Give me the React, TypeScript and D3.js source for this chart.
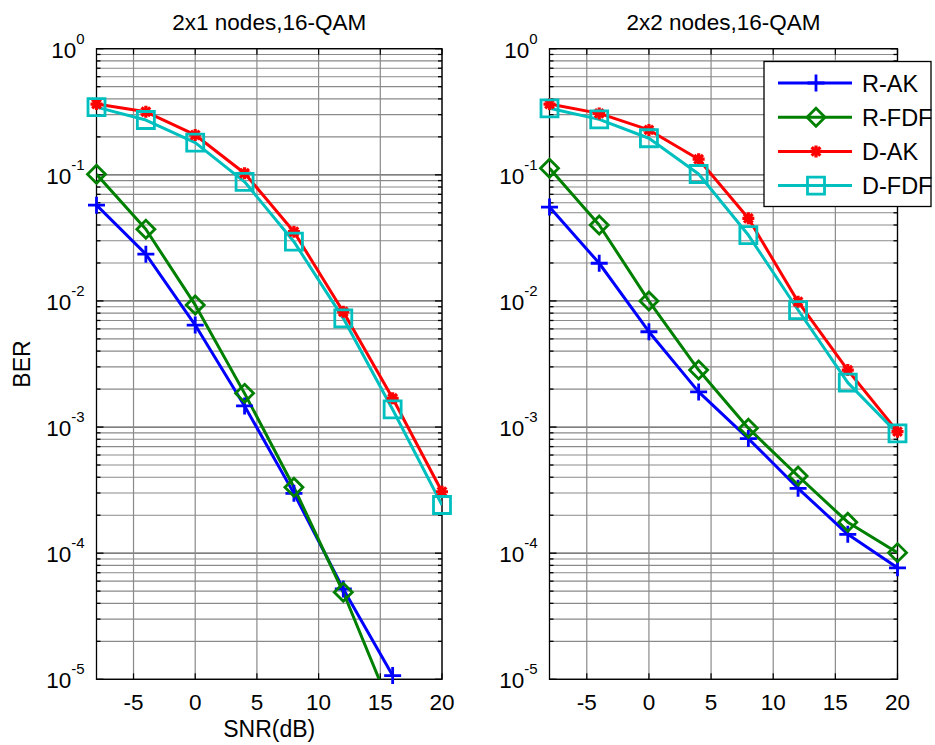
import React from 'react';
import * as d3 from 'd3';

const snr = [-8, -4, 0, 4, 8, 12, 16, 20];
const leftRAK = [0.0575, 0.0235, 0.00644, 0.00147, 0.000298, 5.2e-5, 1.07e-5, null];
const leftRFDF = [0.101, 0.037, 0.0093, 0.00185, 0.000333, 4.9e-5, 5.5e-6, null];
const leftDAK = [0.364, 0.316, 0.207, 0.103, 0.0354, 0.0082, 0.00169, 0.000307];
const leftDFDF = [0.344, 0.272, 0.18, 0.088, 0.0295, 0.00728, 0.00138, 0.000241];
const rightRAK = [0.0555, 0.0199, 0.0057, 0.0019, 0.00081, 0.000327, 0.000141, 7.66e-5];
const rightRFDF = [0.1127, 0.04, 0.00997, 0.00283, 0.00098, 0.000409, 0.000176, 0.000101];
const rightDAK = [0.364, 0.307, 0.227, 0.133, 0.0452, 0.00986, 0.00283, 0.00092];
const rightDFDF = [0.337, 0.275, 0.195, 0.1015, 0.0333, 0.00847, 0.00225, 0.00089];

const xTicks = [-5, 0, 5, 10, 15, 20];
const yExponents = [-5, -4, -3, -2, -1, 0];
const seriesNames = ['R-AK', 'R-FDF', 'D-AK', 'D-FDF'];
const seriesColors = ['#0000ff', '#008000', '#ff0000', '#00bfbf'];
const seriesMarkers = ['plus', 'diamond', 'star', 'square'];
const titles = ['2x1 nodes,16-QAM', '2x2 nodes,16-QAM'];
const xLabel = 'SNR(dB)';
const yLabel = 'BER';

const FONT = 'Liberation Sans, Arial, Helvetica, sans-serif';

function markerPath(kind: string): string {
  if (kind === 'plus') {
    const s = 8.5;
    return `M${-s},0H${s}M0,${-s}V${s}`;
  }
  if (kind === 'star') {
    const s = 6;
    const t = s * 0.72;
    return `M${-s},0H${s}M0,${-s}V${s}M${-t},${-t}L${t},${t}M${-t},${t}L${t},${-t}`;
  }
  if (kind === 'diamond') {
    const s = 9;
    return `M0,${-s}L${s},0L0,${s}L${-s},0Z`;
  }
  const s = 8.5;
  return `M${-s},${-s}H${s}V${s}H${-s}Z`;
}

type PanelProps = {
  id: string;
  x0: number;
  x1: number;
  y0: number;
  y1: number;
  title: string;
  series: (number | null)[][];
  legend?: boolean;
  labels?: boolean;
};

function Panel({ id, x0, x1, y0, y1, title, series, legend, labels }: PanelProps) {
  const x = d3.scaleLinear().domain([-8, 20]).range([x0, x1]);
  const y = d3.scaleLog().domain([1e-5, 1]).range([y1, y0]);
  const minors: number[] = [];
  for (let e = -5; e < 0; e++) for (let k = 2; k <= 9; k++) minors.push(k * Math.pow(10, e));
  const line = d3
    .line<[number, number | null]>()
    .defined((d) => d[1] != null)
    .x((d) => x(d[0]))
    .y((d) => y(d[1] as number));

  return (
    <g>
      <defs>
        <clipPath id={id}>
          <rect x={x0} y={y0} width={x1 - x0} height={y1 - y0} />
        </clipPath>
      </defs>
      {/* grid */}
      {minors.map((v, i) => (
        <line key={'gm' + i} x1={x0} x2={x1} y1={y(v)} y2={y(v)} stroke="#8a8a8a" strokeWidth={1.1} />
      ))}
      {yExponents.map((e) => (
        <line key={'gy' + e} x1={x0} x2={x1} y1={y(Math.pow(10, e))} y2={y(Math.pow(10, e))} stroke="#555" strokeWidth={1.2} />
      ))}
      {xTicks.map((t) => (
        <line key={'gx' + t} x1={x(t)} x2={x(t)} y1={y0} y2={y1} stroke="#8a8a8a" strokeWidth={1.2} />
      ))}
      {/* ticks */}
      {xTicks.map((t) => (
        <g key={'tx' + t}>
          <line x1={x(t)} x2={x(t)} y1={y1} y2={y1 - 6} stroke="#000" strokeWidth={1.2} />
          <line x1={x(t)} x2={x(t)} y1={y0} y2={y0 + 6} stroke="#000" strokeWidth={1.2} />
        </g>
      ))}
      {yExponents.map((e) => (
        <g key={'ty' + e}>
          <line x1={x0} x2={x0 + 7} y1={y(Math.pow(10, e))} y2={y(Math.pow(10, e))} stroke="#000" strokeWidth={1.3} />
          <line x1={x1} x2={x1 - 7} y1={y(Math.pow(10, e))} y2={y(Math.pow(10, e))} stroke="#000" strokeWidth={1.3} />
        </g>
      ))}
      {minors.map((v, i) => (
        <g key={'tm' + i}>
          <line x1={x0} x2={x0 + 4} y1={y(v)} y2={y(v)} stroke="#000" strokeWidth={1.3} />
          <line x1={x1} x2={x1 - 4} y1={y(v)} y2={y(v)} stroke="#000" strokeWidth={1.3} />
        </g>
      ))}
      {/* box */}
      <rect x={x0} y={y0} width={x1 - x0} height={y1 - y0} fill="none" stroke="#000" strokeWidth={1.3} />
      {/* tick labels */}
      {xTicks.map((t) => (
        <text key={'lx' + t} x={x(t)} y={y1 + 31} textAnchor="middle" fontFamily={FONT} fontSize={22.5} fill="#000">
          {t}
        </text>
      ))}
      {yExponents.map((e) => (
        <text key={'ly' + e} x={x0 - 12} y={y(Math.pow(10, e)) + 9} textAnchor="end" fontFamily={FONT} fontSize={22.5} fill="#000">
          10
          <tspan dy={-14} fontSize={15}>
            {e}
          </tspan>
        </text>
      ))}
      {/* title */}
      <text x={(x0 + x1) / 2} y={30} textAnchor="middle" fontFamily={FONT} fontSize={22.5} fill="#000">
        {title}
      </text>
      {labels && (
        <>
          <text x={(x0 + x1) / 2} y={737} textAnchor="middle" fontFamily={FONT} fontSize={23} fill="#000">
            {xLabel}
          </text>
          <text transform={`translate(30,${(y0 + y1) / 2}) rotate(-90)`} textAnchor="middle" fontFamily={FONT} fontSize={23} fill="#000">
            {yLabel}
          </text>
        </>
      )}
      {/* series lines */}
      <g clipPath={`url(#${id})`}>
        {series.map((vals, si) => (
          <path
            key={'s' + si}
            d={line(snr.map((s, i) => [s, vals[i]] as [number, number | null])) || ''}
            fill="none"
            stroke={seriesColors[si]}
            strokeWidth={3}
            strokeLinejoin="round"
          />
        ))}
      </g>
      {/* markers */}
      {series.map((vals, si) =>
        snr.map((s, i) => {
          const v = vals[i];
          if (v == null || v < 1e-5 || v > 1) return null;
          return (
            <path
              key={'m' + si + '-' + i}
              d={markerPath(seriesMarkers[si])}
              transform={`translate(${x(s)},${y(v)})`}
              fill="none"
              stroke={seriesColors[si]}
              strokeWidth={seriesMarkers[si] === 'star' ? 3.2 : 2.8}
            />
          );
        })
      )}
      {legend && (
        <g>
          <rect x={764} y={61.5} width={167} height={145} fill="#fff" stroke="#000" strokeWidth={1.3} />
          {seriesNames.map((n, i) => {
            const cy = 83 + i * 34.2;
            return (
              <g key={'lg' + i}>
                <line x1={778} x2={852} y1={cy} y2={cy} stroke={seriesColors[i]} strokeWidth={3} />
                <path
                  d={markerPath(seriesMarkers[i])}
                  transform={`translate(816,${cy})`}
                  fill="none"
                  stroke={seriesColors[i]}
                  strokeWidth={seriesMarkers[i] === 'star' ? 3.2 : 2.8}
                />
                <text x={862} y={cy + 8.5} fontFamily={FONT} fontSize={23.5} fill="#000">
                  {n}
                </text>
              </g>
            );
          })}
        </g>
      )}
    </g>
  );
}

export default function App() {
  return (
    <svg
      width={935}
      height={745}
      style={{ position: 'absolute', left: 0, top: 0, background: '#fff' }}
    >
      <rect x={0} y={0} width={935} height={745} fill="#fff" />
      <Panel
        id="clipL"
        x0={96.5}
        x1={442}
        y0={48.7}
        y1={679.3}
        title={titles[0]}
        series={[leftRAK, leftRFDF, leftDAK, leftDFDF]}
        labels
      />
      <Panel
        id="clipR"
        x0={549.5}
        x1={897.5}
        y0={48.7}
        y1={679.3}
        title={titles[1]}
        series={[rightRAK, rightRFDF, rightDAK, rightDFDF]}
        legend
      />
    </svg>
  );
}
